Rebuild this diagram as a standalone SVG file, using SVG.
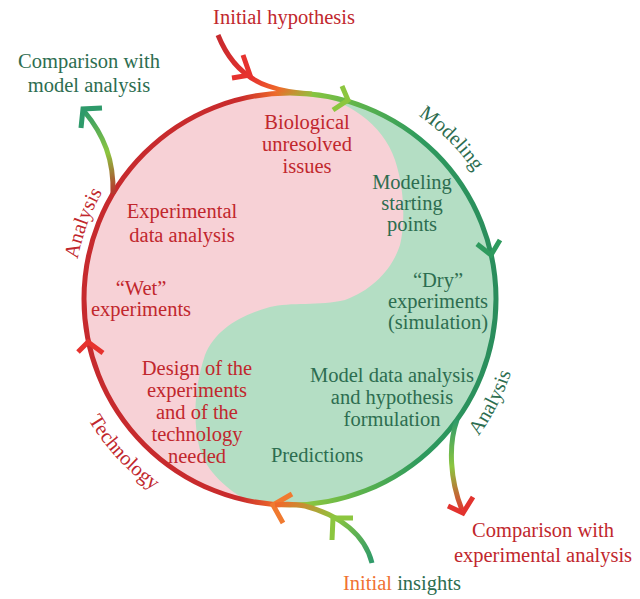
<svg xmlns="http://www.w3.org/2000/svg" width="640" height="599" viewBox="0 0 640 599">
  <defs>
    <style>
      text { font-family: "Liberation Serif", "DejaVu Serif", serif; font-size: 20.5px; text-anchor: middle; }
      .red { fill: #c1272d; }
      .grn { fill: #2d6d50; }
      .org { fill: #f07232; }
      .arc { fill: none; stroke-width: 5; stroke-linecap: butt; }
      .chev { fill: none; stroke-width: 5; stroke-linecap: butt; stroke-linejoin: miter; }
    </style>
    <clipPath id="inside">
      <circle cx="290" cy="299" r="206"/>
    </clipPath>
    <linearGradient id="ring" gradientUnits="userSpaceOnUse" x1="84" y1="0" x2="496" y2="0">
      <stop offset="0" stop-color="#c62a2e"/>
      <stop offset="0.38" stop-color="#c92b2c"/>
      <stop offset="0.465" stop-color="#ee6a2a"/>
      <stop offset="0.54" stop-color="#8cc63f"/>
      <stop offset="0.67" stop-color="#5cb34c"/>
      <stop offset="0.82" stop-color="#2e9a5e"/>
      <stop offset="1" stop-color="#2a8d5c"/>
    </linearGradient>
    <linearGradient id="gHyp" gradientUnits="userSpaceOnUse" x1="218" y1="35" x2="315" y2="95">
      <stop offset="0" stop-color="#c62a2e"/>
      <stop offset="0.45" stop-color="#e6322e"/>
      <stop offset="0.7" stop-color="#ee6a2a"/>
      <stop offset="1" stop-color="#8cc63f"/>
    </linearGradient>
    <linearGradient id="gModel" gradientUnits="userSpaceOnUse" x1="113" y1="192" x2="85" y2="110">
      <stop offset="0" stop-color="#b5372e"/>
      <stop offset="0.45" stop-color="#8cc63f"/>
      <stop offset="1" stop-color="#2e9a6a"/>
    </linearGradient>
    <linearGradient id="gExp" gradientUnits="userSpaceOnUse" x1="457" y1="420" x2="462" y2="512">
      <stop offset="0" stop-color="#2e9a6a"/>
      <stop offset="0.5" stop-color="#8cc63f"/>
      <stop offset="1" stop-color="#e2332e"/>
    </linearGradient>
    <linearGradient id="gIns" gradientUnits="userSpaceOnUse" x1="372" y1="563" x2="278" y2="505">
      <stop offset="0" stop-color="#2e9a6a"/>
      <stop offset="0.5" stop-color="#8cc63f"/>
      <stop offset="1" stop-color="#ee6a2a"/>
    </linearGradient>
    <!-- guide circles for the curved phase labels -->
    <path id="cwIn" d="M74,299 A216,216 0 1 1 506,299 A216,216 0 1 1 74,299"/>
    <path id="cwMod" d="M66,299 A224,224 0 1 1 514,299 A224,224 0 1 1 66,299"/>
    <path id="ccwTech" d="M55,299 A235,235 0 1 0 525,299 A235,235 0 1 0 55,299"/>
    <path id="ccwAn" d="M57,299 A233,233 0 1 0 523,299 A233,233 0 1 0 57,299"/>
  </defs>

  <!-- cycle body: experimental (pink) and modeling (green) halves -->
  <g id="cycle">
    <circle cx="290" cy="299" r="206" fill="#f7d1d6"/>
    <path clip-path="url(#inside)" fill="#b4dec4" d="M288,90 C330,92 380,115 395,160 C405,190 405,225 400,245 C392,270 372,290 345,300 C320,306 290,302 270,307 C240,315 215,330 205,355 C195,385 192,420 200,450 C208,475 235,498 268,510 L268,560 L560,560 L560,40 L288,40 Z"/>
    <circle cx="290" cy="299" r="206" class="arc" stroke="url(#ring)"/>
  </g>

  <!-- connectors -->
  <g id="connectors">
    <path class="arc" stroke="url(#gHyp)" d="M218,35 C228,60 245,78 268,86 C282,91 295,93 312,94"/>
    <polyline class="chev" stroke="#e6322e" points="243,55 250,75 232,78"/>
    <polyline class="chev" stroke="#8cc63f" points="342,86 348,100 333,110"/>
    <polyline class="chev" stroke="#2e9a5e" points="477,244 491,255 500,240"/>
    <polyline class="chev" stroke="#e6322e" points="78,352 88,342 103,353"/>
    <polyline class="chev" stroke="#f07a30" points="292,494 273,505 283,523"/>

    <path class="arc" stroke="url(#gModel)" d="M113,194 C114,160 104,135 84,111"/>
    <polyline class="chev" stroke="#2e9a6a" stroke-width="6" points="81,128 83,109 102,108"/>

    <path class="arc" stroke="url(#gExp)" d="M457,420 C448,445 450,480 462,510"/>
    <polyline class="chev" stroke="#e2332e" stroke-width="6" points="448,506 463,513 473,497"/>

    <path class="arc" stroke="url(#gIns)" d="M372,563 C365,535 340,515 305,506 C295,504 285,504 275,505"/>
    <polyline class="chev" stroke="#8cc63f" points="332,540 333,518 353,518"/>
  </g>

  <!-- phase labels around the ring -->
  <g id="phase-labels">
    <text class="grn"><textPath href="#cwMod" startOffset="528">Modeling</textPath></text>
    <text class="red"><textPath href="#cwIn" startOffset="76">Analysis</textPath></text>
    <text class="red"><textPath href="#ccwTech" startOffset="175">Technology</textPath></text>
    <text class="grn"><textPath href="#ccwAn" startOffset="621">Analysis</textPath></text>
  </g>

  <g id="initial-hypothesis"><text class="red" x="284" y="24">Initial hypothesis</text></g>
  <g id="comparison-model"><text class="grn" x="89" y="68">Comparison with</text><text class="grn" x="89" y="92">model analysis</text></g>
  <g id="comparison-experimental"><text class="red" x="543" y="537">Comparison with</text><text class="red" x="543" y="562">experimental analysis</text></g>
  <g id="initial-insights"><text x="402" y="590"><tspan class="org">Initial</tspan><tspan class="grn"> insights</tspan></text></g>

  <g id="biological-issues">
    <text class="red" x="307" y="129">Biological</text>
    <text class="red" x="307" y="151">unresolved</text>
    <text class="red" x="307" y="173">issues</text>
  </g>
  <g id="experimental-data-analysis">
    <text class="red" x="182" y="218">Experimental</text>
    <text class="red" x="182" y="242">data analysis</text>
  </g>
  <g id="wet-experiments">
    <text class="red" x="141" y="295">“Wet”</text>
    <text class="red" x="141" y="316">experiments</text>
  </g>
  <g id="design">
    <text class="red" x="197" y="375">Design of the</text>
    <text class="red" x="197" y="397">experiments</text>
    <text class="red" x="197" y="419">and of the</text>
    <text class="red" x="197" y="441">technology</text>
    <text class="red" x="197" y="463">needed</text>
  </g>
  <g id="modeling-starting-points">
    <text class="grn" x="412" y="189">Modeling</text>
    <text class="grn" x="412" y="210">starting</text>
    <text class="grn" x="412" y="231">points</text>
  </g>
  <g id="dry-experiments">
    <text class="grn" x="438" y="287">“Dry”</text>
    <text class="grn" x="438" y="308">experiments</text>
    <text class="grn" x="438" y="329">(simulation)</text>
  </g>
  <g id="model-data-analysis">
    <text class="grn" x="392" y="382">Model data analysis</text>
    <text class="grn" x="392" y="404">and hypothesis</text>
    <text class="grn" x="392" y="426">formulation</text>
  </g>
  <g id="predictions"><text class="grn" x="317" y="462">Predictions</text></g>
</svg>
